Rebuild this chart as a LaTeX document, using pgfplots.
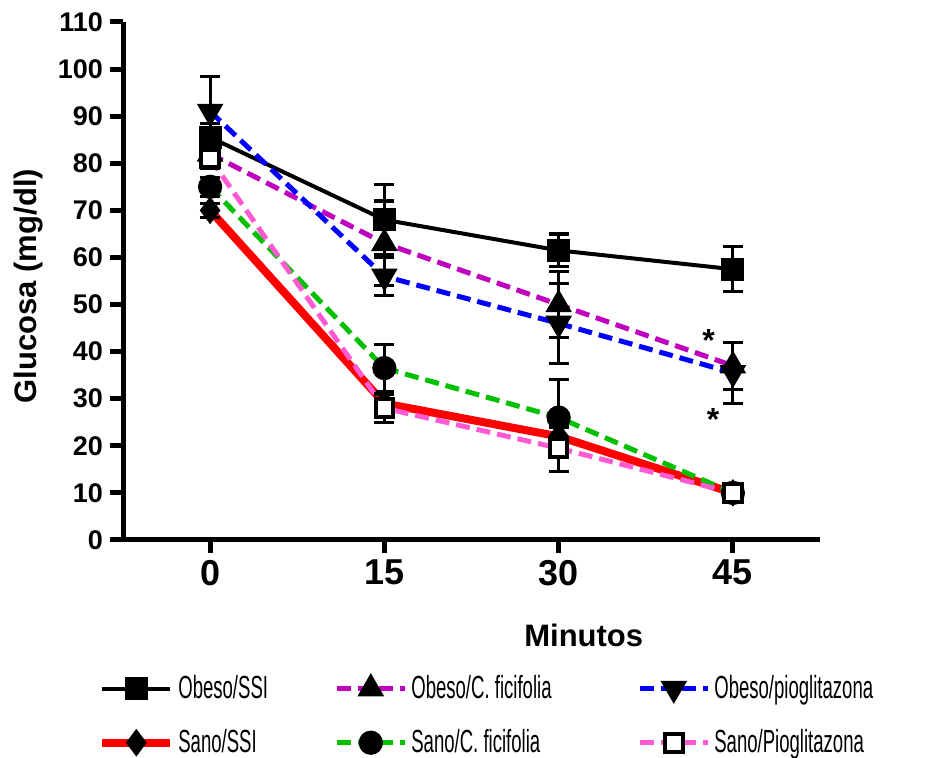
\documentclass[border=0pt]{standalone}
\usepackage{pgfplots}
\pgfplotsset{compat=1.18}
\usepackage{pgfplotstable}
\usepackage{fontspec}
\setmainfont{Liberation Sans}
\newfontfamily\narrowfont[FakeStretch=0.58]{Liberation Sans}
\definecolor{cmag}{RGB}{191,0,191}
\definecolor{cblue}{RGB}{0,0,255}
\definecolor{cgreen}{RGB}{0,192,0}
\definecolor{cpink}{RGB}{255,90,210}
\definecolor{cred}{RGB}{255,0,0}

\pgfplotstableread{
x y e
0 85.5 3
15 68 7.5
30 61.5 3.5
45 57.5 4.8
}\obssi
\pgfplotstableread{
x y e
0 82 2
15 63 9
30 50 7
45 37 5
}\obcf
\pgfplotstableread{
x y e
0 91 7.5
15 56 4
30 46 8.5
45 35.5 6.5
}\obpio
\pgfplotstableread{
x y e
0 70 1.5
15 29 2
30 22 2
45 10 0
}\sassi
\pgfplotstableread{
x y e
0 75 2
15 36.5 5
30 26 8
45 10 0
}\sacf
\pgfplotstableread{
x y e
0 81 2
15 28 3
30 19.5 5
45 10 0
}\sapio

\begin{document}
\begin{tikzpicture}
\begin{axis}[
  scale only axis,
  width=348.5pt, height=259pt,
  xmin=-7.5, xmax=52.5, ymin=0, ymax=110,
  axis x line=bottom, axis y line=left,
  axis line style={-, line width=2.5pt},
  xtick={0,15,30,45}, ytick={0,10,...,110},
  tick align=outside,
  major tick length=6.5pt,
  every tick/.style={black, line width=2.5pt},
  /pgf/number format/assume math mode=true,
  x tick label style={font=\fontsize{18}{20}\selectfont\bfseries},
  y tick label style={font=\fontsize{13.5}{15}\selectfont\bfseries},
  xlabel={Minutos}, ylabel={Glucosa (mg/dl)},
  xlabel style={font=\fontsize{15.5}{17}\selectfont\bfseries, at={(axis description cs:0.661,-0.185)}, anchor=center},
  ylabel style={font=\fontsize{15.5}{17}\selectfont\bfseries, at={(axis description cs:-0.136,0.49)}, anchor=center},
  clip=false,
  legend columns=3,
  legend style={draw=none, fill=none, inner sep=0pt, at={(axis description cs:-0.036,-0.253)}, anchor=north west,
    font=\fontsize{16}{18}\selectfont\narrowfont, row sep=10pt,
    /tikz/every even column/.append style={column sep=6pt}},
  legend cell align=left,
  legend image code/.code={\draw[mark repeat=2,mark phase=2,#1] plot coordinates {(0pt,0pt) (17pt,0pt) (34pt,0pt)};},
  error bars/y dir=both, error bars/y explicit,
  error bars/error bar style={line width=1.6pt, black, solid},
  error bars/error mark options={rotate=90, mark size=5pt, line width=1.6pt, black, solid},
]
\addplot[black, line width=2pt, mark=square*, mark size=4.8pt, mark options={solid, fill=black}]
  table[x=x, y=y, y error=e] {\obssi};
\addlegendentry{\makebox[70pt][l]{Obeso/SSI}}
\addplot[cmag, line width=2.5pt, dash pattern=on 7pt off 3.5pt, mark=triangle*, mark size=5.2pt, mark options={solid, fill=black, draw=black}]
  table[x=x, y=y, y error=e] {\obcf};
\addlegendentry{\makebox[105pt][l]{Obeso/C. ficifolia}}
\addplot[cblue, line width=2.5pt, dash pattern=on 7pt off 3.5pt, mark=triangle*, mark size=5.2pt, mark options={solid, fill=black, draw=black, rotate=180}]
  table[x=x, y=y, y error=e] {\obpio};
\addlegendentry{Obeso/pioglitazona}
\addplot[cred, line width=4pt, mark=diamond*, mark size=6.5pt, mark options={solid, fill=black, draw=black, line width=0.5pt}]
  table[x=x, y=y, y error=e] {\sassi};
\addlegendentry{\makebox[70pt][l]{Sano/SSI}}
\addplot[cgreen, line width=2.5pt, dash pattern=on 7pt off 3.5pt, mark=*, mark size=4.8pt, mark options={solid, fill=black, draw=black}]
  table[x=x, y=y, y error=e] {\sacf};
\addlegendentry{\makebox[105pt][l]{Sano/C. ficifolia}}
\addplot[cpink, line width=2.5pt, dash pattern=on 7pt off 3.5pt, mark=square*, mark size=4.4pt, mark options={solid, fill=white, draw=black, line width=2pt}]
  table[x=x, y=y, y error=e] {\sapio};
\addlegendentry{Sano/Pioglitazona}
\node[font=\fontsize{16}{16}\selectfont\bfseries] at (axis cs:42.9,42.3) {*};
\node[font=\fontsize{16}{16}\selectfont\bfseries] at (axis cs:43.3,25.5) {*};
\end{axis}
\pgfresetboundingbox
\path[use as bounding box] (-61.5pt,-109pt) rectangle (403.5pt,270pt);
\end{tikzpicture}
\end{document}
